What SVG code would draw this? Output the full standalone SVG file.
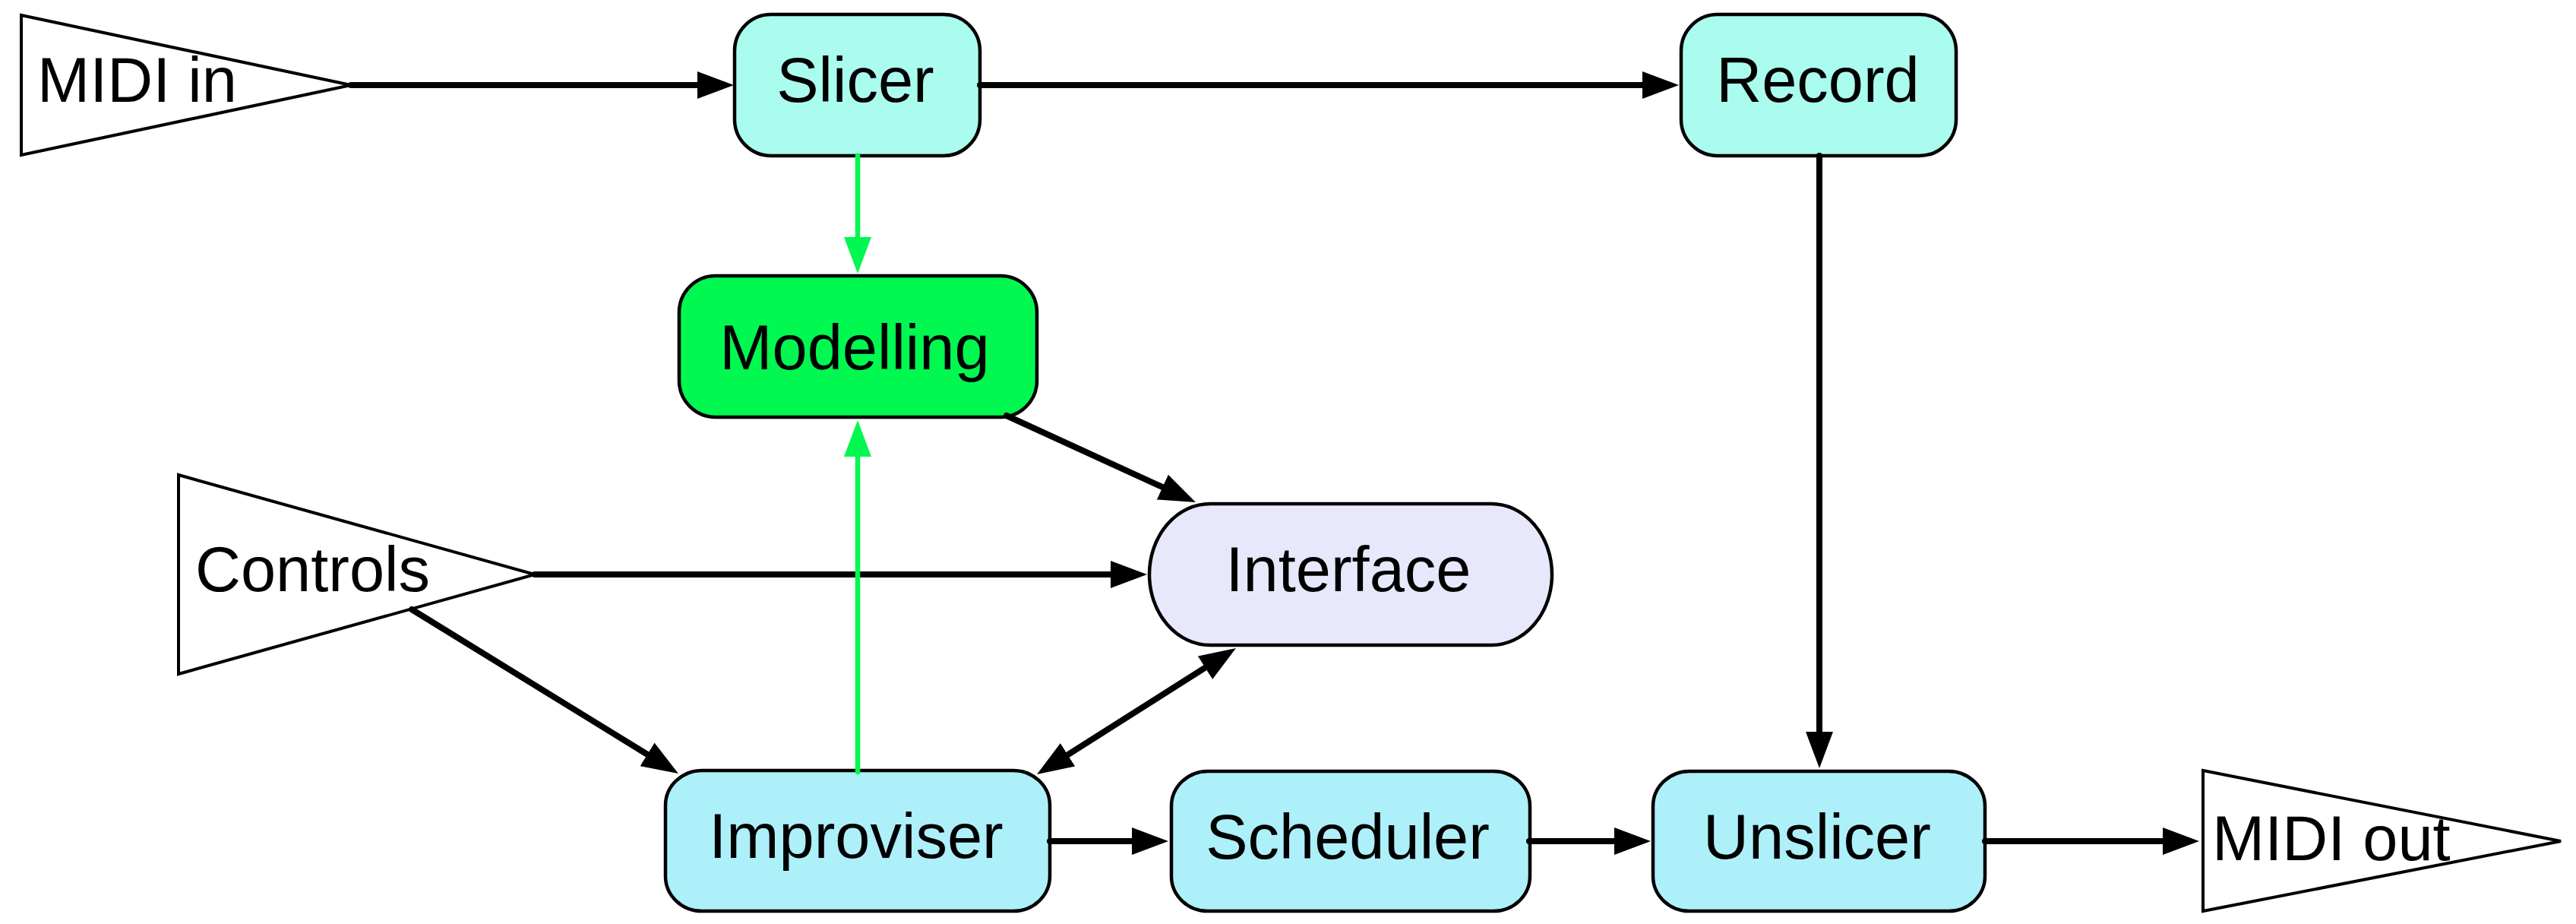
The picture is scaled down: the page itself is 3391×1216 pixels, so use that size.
<svg xmlns="http://www.w3.org/2000/svg" width="3391" height="1216" viewBox="0 0 3391 1216">
<style>
  .box { stroke: #000; stroke-width: 4.5; }
  .cyan1 { fill: #AAFCEE; }
  .cyan2 { fill: #ADF0FA; }
  .green { fill: #00F850; }
  .lav { fill: #E8E8FC; }
  .tri { fill: #fff; stroke: #000; stroke-width: 4; stroke-linejoin: miter; }
  .lbl { font-family: "Liberation Sans", Arial, Helvetica, sans-serif; font-size: 83px; fill: #000; }
  .mid { text-anchor: middle; }
  .edge { fill: none; stroke: #000; stroke-width: 8; stroke-linecap: round; marker-end: url(#ah); }
  .gedge { fill: none; stroke: #00F850; stroke-width: 6.5; stroke-linecap: round; marker-end: url(#gah); }
</style>
<defs>
  <marker id="ah" markerUnits="userSpaceOnUse" viewBox="0 0 48 36" markerWidth="48" markerHeight="36" refX="8" refY="18" orient="auto-start-reverse">
    <path d="M0,0 L48,18 L0,36 Z" fill="#000"/>
  </marker>
  <marker id="gah" markerUnits="userSpaceOnUse" viewBox="0 0 48 36" markerWidth="48" markerHeight="36" refX="8" refY="18" orient="auto">
    <path d="M0,0 L48,18 L0,36 Z" fill="#00F850"/>
  </marker>
</defs>
<rect x="0" y="0" width="3391" height="1216" fill="#fff"/>

<g id="midi-in">
  <polygon class="tri" points="28,20 28,204 462,112"/>
  <text class="lbl" x="49" y="134">MIDI in</text>
</g>
<g id="controls">
  <polygon class="tri" points="235,625 235,887 704,756"/>
  <text class="lbl" x="257" y="778">Controls</text>
</g>
<g id="midi-out">
  <polygon class="tri" points="2900,1014 2900,1199 3371,1107"/>
  <text class="lbl" x="2912" y="1132">MIDI out</text>
</g>

<g id="slicer">
  <rect class="box cyan1" x="967" y="19" width="323" height="186" rx="48" ry="48"/>
  <text class="lbl mid" x="1126" y="134">Slicer</text>
</g>
<g id="record">
  <rect class="box cyan1" x="2213" y="19" width="362" height="186" rx="48" ry="48"/>
  <text class="lbl mid" x="2393" y="134">Record</text>
</g>
<g id="modelling">
  <rect class="box green" x="894" y="363" width="471" height="186" rx="48" ry="48"/>
  <text class="lbl mid" x="1125" y="486">Modelling</text>
</g>
<g id="interface">
  <rect class="box lav" x="1513" y="663" width="530" height="186" rx="80" ry="93"/>
  <text class="lbl mid" x="1775" y="778">Interface</text>
</g>
<g id="improviser">
  <rect class="box cyan2" x="876" y="1014" width="506" height="185" rx="48" ry="46"/>
  <text class="lbl mid" x="1127" y="1129">Improviser</text>
</g>
<g id="scheduler">
  <rect class="box cyan2" x="1542" y="1015" width="472" height="184" rx="48" ry="46"/>
  <text class="lbl mid" x="1774" y="1130">Scheduler</text>
</g>
<g id="unslicer">
  <rect class="box cyan2" x="2176" y="1015" width="437" height="184" rx="48" ry="46"/>
  <text class="lbl mid" x="2392" y="1130">Unslicer</text>
</g>

<g id="connectors">
  <line class="edge" x1="462" y1="112" x2="926" y2="112"/>
  <line class="edge" x1="1290" y1="112" x2="2170" y2="112"/>
  <line class="edge" x1="704" y1="756" x2="1470" y2="756"/>
  <line class="edge" x1="1325" y1="547" x2="1537.6" y2="644.4"/>
  <line class="edge" x1="542" y1="802" x2="858.9" y2="997"/>
  <line class="edge" x1="1398.8" y1="997.6" x2="1593.2" y2="874.4" style="marker-start:url(#ah)"/>
  <line class="edge" x1="2395" y1="205" x2="2395" y2="971"/>
  <line class="edge" x1="1382" y1="1107" x2="1498" y2="1107"/>
  <line class="edge" x1="2013" y1="1107" x2="2133" y2="1107"/>
  <line class="edge" x1="2613" y1="1107" x2="2855" y2="1107"/>
  <line class="gedge" x1="1129" y1="205" x2="1129" y2="320"/>
  <line class="gedge" x1="1129" y1="1016" x2="1129" y2="593"/>
</g>
</svg>
